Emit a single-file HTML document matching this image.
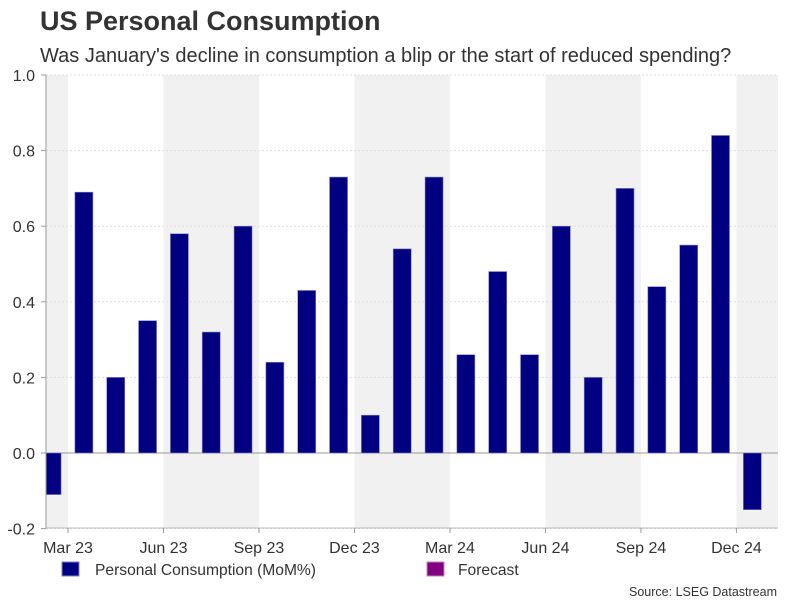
<!DOCTYPE html>
<html><head><meta charset="utf-8"><style>
body{margin:0;background:#fff;font-family:"Liberation Sans",Arial,sans-serif;}
svg text{font-family:"Liberation Sans",Arial,sans-serif;}
</style></head><body>
<svg width="801" height="601" xmlns="http://www.w3.org/2000/svg" id="chart">
<text x="40" y="30" font-size="27" font-weight="bold" fill="#333">US Personal Consumption</text>
<text x="40" y="62" font-size="20" fill="#333">Was January's decline in consumption a blip or the start of reduced spending?</text>
<g id="bands"></g><g id="grid"></g><g id="bars"></g><g id="axes"></g>
<rect x="62" y="562" width="17" height="14" fill="#000080" stroke="#8080c0"/>
<text x="95" y="575" font-size="15.6" fill="#333">Personal Consumption (MoM%)</text>
<rect x="427" y="562" width="17" height="14" fill="#800080" stroke="#c080c0"/>
<text x="458" y="575" font-size="15.6" fill="#333">Forecast</text>
<text x="777" y="596" font-size="12.5" fill="#333" text-anchor="end">Source: LSEG Datastream</text>
</svg>
<script>
const months = ["Feb 23","Mar 23","Apr 23","May 23","Jun 23","Jul 23","Aug 23","Sep 23","Oct 23","Nov 23","Dec 23","Jan 24","Feb 24","Mar 24","Apr 24","May 24","Jun 24","Jul 24","Aug 24","Sep 24","Oct 24","Nov 24","Dec 24","Jan 25"];
const values = [-0.11,0.69,0.20,0.35,0.58,0.32,0.60,0.24,0.43,0.73,0.10,0.54,0.73,0.26,0.48,0.26,0.60,0.20,0.70,0.44,0.55,0.84,-0.15];
const yTicks = [-0.2,0.0,0.2,0.4,0.6,0.8,1.0];
const xTickLabels = ["Mar 23","Jun 23","Sep 23","Dec 23","Mar 24","Jun 24","Sep 24","Dec 24"];
const xTickIdx = [1,4,7,10,13,16,19,22];

const NS="http://www.w3.org/2000/svg";
const L=46,R=778,T=75,B=528,MW=31.83,X0=68-MW;
const y=v=>453-(v*378);
const x=i=>X0+i*MW;
function mk(tag,attrs,parent){const e=document.createElementNS(NS,tag);for(const k in attrs)e.setAttribute(k,attrs[k]);document.getElementById(parent).appendChild(e);return e;}
const bandStarts=[X0,...xTickIdx.map(i=>x(i))];
for(let k=0;k<bandStarts.length;k++){
  if(k%2!==0) continue;
  const s=Math.max(L,bandStarts[k]), e=Math.min(R,k+1<bandStarts.length?bandStarts[k+1]:R);
  const b=mk('rect',{x:s,y:T,width:e-s,height:B-T,fill:'#f1f1f1'},'bands');
  
  
}
yTicks.forEach(t=>{
  const g=mk('line',{x1:L,x2:R,y1:y(t),y2:y(t),stroke:t===0?'#999':'#ddd','stroke-dasharray':t===0?'':'2,2'},'grid');
  
  
  const tk=mk('line',{x1:L-5,x2:L,y1:y(t),y2:y(t),stroke:'#999'},'axes');
  
  
  const lb=mk('text',{x:35,y:y(t)+6,'font-size':16,fill:'#333','text-anchor':'end'},'axes');
  lb.textContent=t.toFixed(1);
  
  
});
values.forEach((v,i)=>{
  const cx=x(i)+MW/2; let x1=cx-9; let w=18;
  if(x1<L){w-=L-x1;x1=L;}
  const r=mk('rect',{x:x1,y:Math.min(y(v),y(0)),width:w,height:Math.abs(y(v)-y(0)),fill:'#000080',stroke:'#8080c0','stroke-width':0.6},'bars');
  
  
});
const ya=mk('line',{x1:L,x2:L,y1:T,y2:B,stroke:'#999'},'axes');


const xa=mk('line',{x1:L,x2:R,y1:B,y2:B,stroke:'#bbb'},'axes');


xTickIdx.forEach((idx,k)=>{
  const tx=x(idx);
  const tk=mk('line',{x1:tx,x2:tx,y1:B,y2:B+5,stroke:'#999'},'axes');
  
  
  const lb=mk('text',{x:tx,y:B+25,'font-size':16,fill:'#333','text-anchor':'middle'},'axes');
  lb.textContent=xTickLabels[k];
  
  
});
</script>
</body></html>
